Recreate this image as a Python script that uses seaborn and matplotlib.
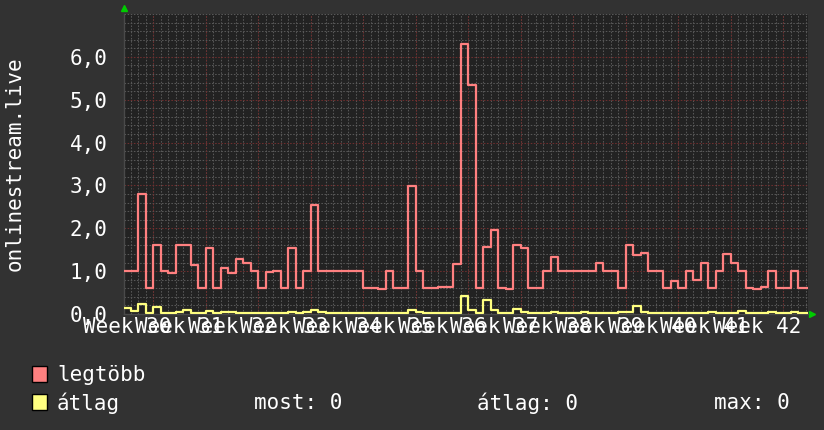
import matplotlib
matplotlib.use("Agg")
import matplotlib.pyplot as plt
from matplotlib.patches import Rectangle
import numpy as np
import pandas as pd
import seaborn as sns

# daily values, day 0 = first day of week 31
days = list(range(-4, 88))
max_vals = [1.0, 1.0, 2.8, 0.6, 1.6, 1.0, 0.95, 1.6, 1.6, 1.15,
            0.6, 1.55, 0.6, 1.07, 0.95, 1.28, 1.18, 1.0, 0.6, 0.97,
            1.0, 0.6, 1.55, 0.6, 1.0, 2.55, 1.0, 1.0, 1.0, 1.0,
            1.0, 1.0, 0.6, 0.6, 0.58, 1.0, 0.6, 0.6, 2.98, 1.0,
            0.6, 0.6, 0.62, 0.62, 1.16, 6.3, 5.35, 0.6, 1.57, 1.97,
            0.6, 0.58, 1.6, 1.55, 0.6, 0.6, 1.0, 1.33, 1.0, 1.0,
            1.0, 1.0, 1.0, 1.2, 1.0, 1.0, 0.6, 1.6, 1.37, 1.42,
            1.0, 1.0, 0.6, 0.77, 0.6, 1.0, 0.79, 1.2, 0.6, 1.0,
            1.39, 1.2, 1.0, 0.6, 0.58, 0.62, 1.0, 0.6, 0.6, 1.0,
            0.6, 0.6]
avg_vals = [0.14, 0.06, 0.23, 0.03, 0.17, 0.03, 0.03, 0.05, 0.09, 0.03,
            0.03, 0.07, 0.03, 0.04, 0.05, 0.03, 0.03, 0.03, 0.02, 0.03,
            0.03, 0.03, 0.04, 0.03, 0.05, 0.09, 0.04, 0.03, 0.03, 0.03,
            0.03, 0.03, 0.02, 0.03, 0.03, 0.03, 0.03, 0.03, 0.09, 0.04,
            0.03, 0.03, 0.03, 0.03, 0.03, 0.42, 0.09, 0.03, 0.33, 0.09,
            0.03, 0.03, 0.12, 0.05, 0.03, 0.03, 0.03, 0.05, 0.03, 0.03,
            0.03, 0.05, 0.03, 0.03, 0.03, 0.03, 0.05, 0.05, 0.19, 0.05,
            0.03, 0.03, 0.03, 0.03, 0.03, 0.03, 0.03, 0.03, 0.04, 0.03,
            0.03, 0.03, 0.06, 0.03, 0.03, 0.03, 0.04, 0.03, 0.03, 0.04,
            0.03, 0.03]

week_labels = [f"Week {w}" for w in range(30, 43)]
week_mids = [-3.5 + 7 * i for i in range(13)]
week_starts = [7 * i for i in range(13)]
y_ticks = [0, 1, 2, 3, 4, 5, 6]
y_labels = ["0,0", "1,0", "2,0", "3,0", "4,0", "5,0", "6,0"]

# extend last step to the right edge
x_ext = days + [days[-1] + 1]
df = pd.concat([
    pd.DataFrame({"day": x_ext, "value": max_vals + [max_vals[-1]], "series": "legtöbb"}),
    pd.DataFrame({"day": x_ext, "value": avg_vals + [avg_vals[-1]], "series": "átlag"}),
])

sns.set_style("dark")
plt.rcParams["font.family"] = ["DejaVu Sans Mono"]

bg = "#323232"
fig = plt.figure(figsize=(8.24, 4.30), dpi=100, facecolor=bg)
ax = fig.add_axes([124 / 824, 116 / 430, 684 / 824, 300 / 430])
ax.set_facecolor("#222222")

sns.lineplot(data=df, x="day", y="value", hue="series",
             palette={"legtöbb": "#ff8080", "átlag": "#ffff80"},
             drawstyle="steps-post", estimator=None, linewidth=1.6,
             legend=False, ax=ax, zorder=3)

ax.set_xlim(-3.9, 87.3)
ax.set_ylim(0, 7)

# grid: gray daily / 0.2 minor, red weekly / 1.0 major
ax.set_xticks(np.arange(-3, 88), minor=True)
ax.set_yticks(np.arange(0, 7.01, 0.2), minor=True)
ax.set_xticks(week_mids)
ax.set_xticklabels(week_labels)
ax.set_yticks(y_ticks)
ax.set_yticklabels(y_labels)
dots = (0, (1.5, 1.5))
ax.grid(which="minor", color="#575757", linestyle=dots, linewidth=0.75)
ax.grid(which="major", axis="x", visible=False)
ax.grid(which="major", axis="y", color="#6e2e2e", linestyle=dots, linewidth=0.75)
ax.vlines(week_starts, 0, 7, colors="#6e2e2e", linestyles=dots, linewidth=0.75, zorder=1)
ax.set_axisbelow(True)

ax.tick_params(which="both", length=0, labelcolor="white", labelsize=15)
ax.tick_params(axis="y", pad=12)
ax.tick_params(axis="x", pad=2)
ax.set_xlabel("")
ax.set_ylabel("")
for s in ["top", "right"]:
    ax.spines[s].set_visible(False)
for s in ["left", "bottom"]:
    ax.spines[s].set_color("#4a4a4a")
    ax.spines[s].set_linewidth(1)

# axis arrows
ax.plot([1.006], [0], marker=">", color="#00cc00", markersize=5,
        transform=ax.transAxes, clip_on=False)
ax.plot([0], [1.02], marker="^", color="#00cc00", markersize=5,
        transform=ax.transAxes, clip_on=False)

fig.text(15 / 824, 1 - 164 / 430, "onlinestream.live", rotation=90,
         ha="center", va="center", color="white", fontsize=15)

# legend
fig.patches.append(Rectangle((32 / 824, 1 - 381.5 / 430), 15 / 824, 16 / 430,
                             transform=fig.transFigure, facecolor="#ff8080",
                             edgecolor="black", linewidth=1))
fig.patches.append(Rectangle((32 / 824, 1 - 409.5 / 430), 15 / 824, 16 / 430,
                             transform=fig.transFigure, facecolor="#ffff80",
                             edgecolor="black", linewidth=1))
row1 = 1 - 375 / 430
row2 = 1 - 403 / 430
fig.text(57 / 824, row1, "legtöbb", va="center", color="white", fontsize=15)
fig.text(57 / 824, row2, "átlag", va="center", color="white", fontsize=15)
fig.text(254 / 824, row2, "most: 0", va="center", color="white", fontsize=15)
fig.text(477 / 824, row2, "átlag: 0", va="center", color="white", fontsize=15)
fig.text(714 / 824, row2, "max: 0", va="center", color="white", fontsize=15)

fig.savefig("out.png", dpi=100, facecolor=bg)
